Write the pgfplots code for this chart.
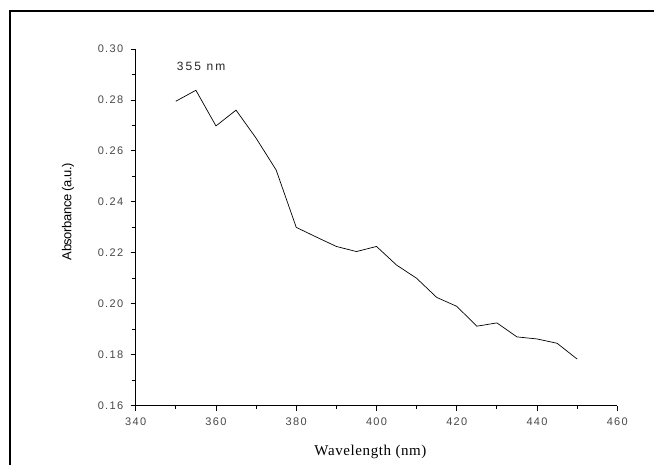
\documentclass[border=0pt]{standalone}
\usepackage{pgfplots}
\pgfplotsset{compat=1.18}
\usepackage{fontspec}
\setmainfont{Liberation Serif}
\newfontfamily\arialf[LetterSpace=12]{Liberation Sans}
\newfontfamily\arialw[LetterSpace=18]{Liberation Sans}
\newfontfamily\arialy[LetterSpace=-3]{Liberation Sans}
\newfontfamily\serifw[LetterSpace=4]{Liberation Serif}
\begin{document}
\begin{tikzpicture}[x=1pt,y=1pt]
\begin{axis}[
  at={(0,0)}, anchor=origin,
  scale only axis,
  width=481.6pt, height=356.7pt,
  xmin=340, xmax=460, ymin=0.16, ymax=0.30,
  axis lines*=left,
  axis line style={line width=0.9pt, -},
  xtick={340,360,...,460},
  ytick={0.16,0.18,...,0.30},
  minor xtick={350,370,...,450},
  minor ytick={0.17,0.19,...,0.29},
  tick align=outside,
  major tick length=5pt, minor tick length=3.5pt,
  every tick/.style={line width=0.9pt, black},
  tick label style={font=\arialf\fontsize{11}{12}\selectfont, text=black!72},
  /pgf/number format/assume math mode=true,
  yticklabel style={xshift=-4pt, /pgf/number format/.cd, fixed, fixed zerofill, precision=2},
  xticklabel style={yshift=-4pt, /pgf/number format/.cd, fixed, precision=0},
  scaled y ticks=false,
  xtick pos=bottom, ytick pos=left,
  xlabel={Wavelength (nm)},
  ylabel={Absorbance (a.u.)},
  xlabel style={font=\serifw\fontsize{15}{17}\selectfont, at={(axis description cs:0.4875,-0.13)}, anchor=center},
  ylabel style={font=\arialy\fontsize{13}{15}\selectfont, at={(axis description cs:-0.1406,0.5444)}, anchor=center},
  clip=false,
]
\addplot[black, line width=0.7pt] coordinates {
(350,0.2795) (355,0.2838) (360,0.2698) (365,0.2760) (370,0.2650)
(375,0.2525) (380,0.2300) (385,0.2262) (390,0.2225) (395,0.2205)
(400,0.2225) (405,0.2152) (410,0.2100) (415,0.2025) (420,0.1990)
(425,0.1912) (430,0.1925) (435,0.1870) (440,0.1862) (445,0.1845)
(450,0.1783)
};
\node[anchor=west, font=\arialw\fontsize{12}{13}\selectfont, inner sep=0pt, text=black!85] at (axis cs:350.2,0.2933) {355 nm};
\end{axis}
\draw[line width=2.6pt] (-125.7pt,-80pt) -- (-125.7pt,394.7pt) -- (540pt,394.7pt);
\pgfresetboundingbox
\useasboundingbox (-135.7pt,-58.3pt) rectangle (518.3pt,405.7pt);
\end{tikzpicture}
\end{document}
